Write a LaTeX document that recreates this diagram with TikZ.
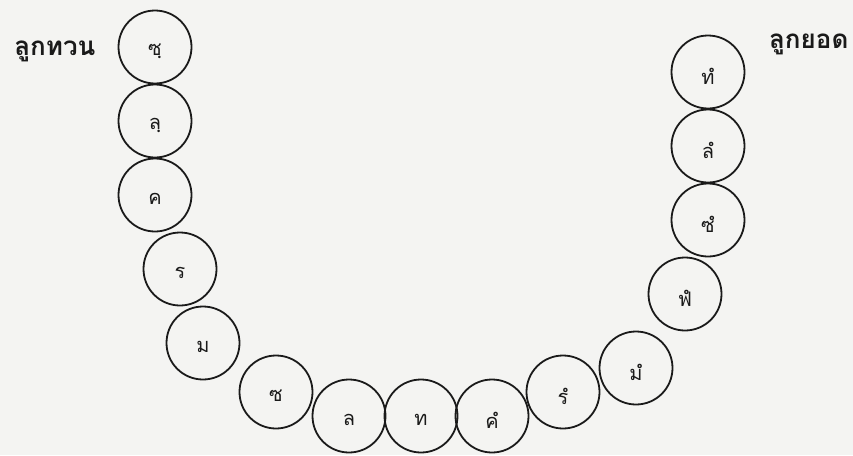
\documentclass[tikz,border=0pt]{standalone}
\usepackage{fontspec}
\usepackage{tikz}
\newfontfamily\thaifont[Script=Thai]{Loma}
\definecolor{ink}{HTML}{1A1A1A}
\definecolor{paper}{HTML}{F4F4F2}

\begin{document}
\begin{tikzpicture}[x=1pt,y=-1pt,font=\thaifont]
\tikzset{
  note/.style={circle,draw=ink,line width=1.8pt,minimum size=73pt,inner sep=0pt,text=ink},
  notetext/.style={font=\thaifont\fontsize{20}{20}\selectfont,text=ink},
  endlabel/.style={font=\thaifont\bfseries\fontsize{26}{26}\selectfont,text=ink}
}
\fill[paper] (0,0) rectangle (853,455);
\useasboundingbox (0,0) rectangle (853,455);
\foreach \x/\y/\lab/\nm in {155/47/ซฺ/n1,155/121/ลฺ/n2,155/195/ค/n3,180/269/ร/n4,203/343/ม/n5,
  276/392/ซ/n6,349/416/ล/n7,421/416/ท/n8,492/416/คํ/n9,563/392/รํ/n10,636/368/มํ/n11,
  685/294/ฟํ/n12,708/220/ซํ/n13,708/146/ลํ/n14,708/72/ทํ/n15}
  {\node[note] (\nm) at (\x,\y) {};
   \node[notetext] (\nm t) at ([yshift=-4pt]\nm.center) {\lab};}
\node[endlabel,anchor=east] (tuan) at (99,51) {ลูกทวน};
\node[endlabel,anchor=east] (yot) at (852,44) {ลูกยอด};
\end{tikzpicture}
\end{document}
